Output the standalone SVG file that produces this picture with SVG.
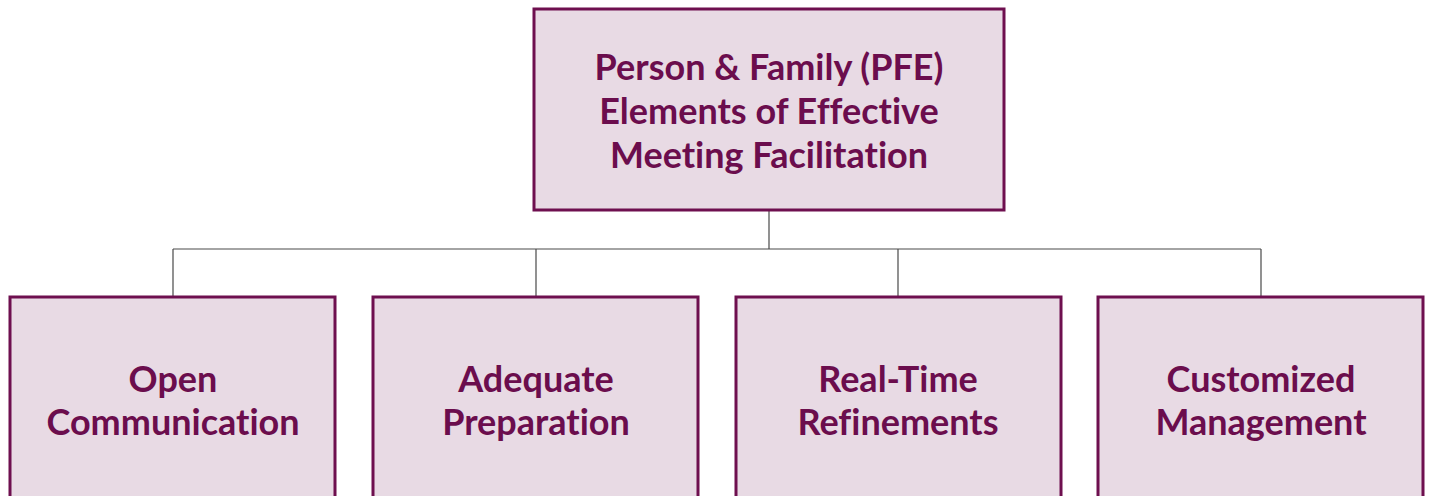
<svg xmlns="http://www.w3.org/2000/svg" width="1429" height="496" viewBox="0 0 1429 496">
<style>
.box{fill:#e8dae4;stroke:#6e0f4f;stroke-width:3}
.lbl{font-family:Lato,"Liberation Sans",sans-serif;font-weight:bold;font-size:36px;fill:#6b0d4d;text-anchor:middle;font-variant-ligatures:none;font-feature-settings:"liga" 0,"dlig" 0}
.conn{fill:none;stroke:#4a4a4a;stroke-width:1.2}
</style>
<rect width="1429" height="496" fill="#ffffff"/>
<g id="connectors">
<path class="conn" d="M769 210V249M173 249H1261M173 249V296M536 249V296M898 249V296M1261 249V296"/>
</g>
<g id="root">
<rect class="box" x="534" y="9" width="470" height="201"/>
<text class="lbl" x="769" y="80">Person &amp; Family (PFE)</text>
<text class="lbl" x="769" y="124">Elements of Effective</text>
<text class="lbl" x="769" y="168">Meeting Facilitation</text>
</g>
<g id="n1">
<rect class="box" x="10" y="297" width="325" height="210"/>
<text class="lbl" x="173" y="392">Open</text>
<text class="lbl" x="173" y="435">Communication</text>
</g>
<g id="n2">
<rect class="box" x="373" y="297" width="325" height="210"/>
<text class="lbl" x="536" y="392">Adequate</text>
<text class="lbl" x="536" y="435">Preparation</text>
</g>
<g id="n3">
<rect class="box" x="736" y="297" width="325" height="210"/>
<text class="lbl" x="898" y="392">Real-Time</text>
<text class="lbl" x="898" y="435">Refinements</text>
</g>
<g id="n4">
<rect class="box" x="1098" y="297" width="325" height="210"/>
<text class="lbl" x="1261" y="392">Customized</text>
<text class="lbl" x="1261" y="435">Management</text>
</g>
</svg>
